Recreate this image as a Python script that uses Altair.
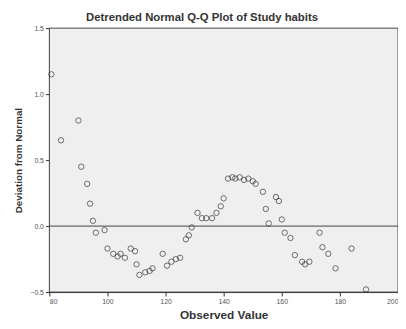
import altair as alt
import pandas as pd

observed = [80.7, 84, 90, 91, 93, 94, 95, 96, 99, 100, 102, 103.5, 104.5, 106, 108, 109.5,
            110, 111, 113, 114.5, 115.5, 119, 120.5, 122, 123.5, 125, 127, 128, 129, 131,
            132.5, 134, 136, 137.5, 139, 140, 141.5, 143, 144, 145.5, 147, 148.5, 150, 151,
            153.5, 154.5, 155.5, 158, 159, 160, 161, 163, 164.5, 167, 168, 169.5, 173, 174,
            176, 178.5, 184, 189]
deviation = [1.15, 0.65, 0.80, 0.45, 0.32, 0.17, 0.04, -0.05, -0.03, -0.17, -0.21, -0.23, -0.21,
             -0.24, -0.17, -0.19, -0.29, -0.37, -0.35, -0.34, -0.32, -0.21, -0.30, -0.27, -0.25,
             -0.24, -0.10, -0.07, -0.01, 0.10, 0.06, 0.06, 0.06, 0.10, 0.15, 0.21, 0.36, 0.37,
             0.36, 0.37, 0.35, 0.36, 0.34, 0.32, 0.26, 0.13, 0.02, 0.22, 0.19, 0.05, -0.05, -0.09,
             -0.22, -0.27, -0.29, -0.27, -0.05, -0.16, -0.21, -0.32, -0.17, -0.48]
x_ticks = [80, 100, 120, 140, 160, 180, 200]
y_ticks = [-0.5, 0.0, 0.5, 1.0, 1.5]

df = pd.DataFrame({"observed": observed, "deviation": deviation})

x_enc = alt.X("observed:Q", title="Observed Value",
              scale=alt.Scale(domain=[80, 200], nice=False, zero=False),
              axis=alt.Axis(values=x_ticks, format="d", grid=False, tickSize=4,
                            labelFontSize=7, labelColor="#555", titleFontSize=12,
                            titleFontWeight="bold", titleColor="#333", titlePadding=5,
                            domainColor="#333", tickColor="#333", labelPadding=2))
y_enc = alt.Y("deviation:Q", title="Deviation from Normal",
              scale=alt.Scale(domain=[-0.5, 1.5], nice=False, zero=False),
              axis=alt.Axis(values=y_ticks, format=".1f", grid=False, tickSize=4,
                            labelFontSize=7, labelColor="#555", titleFontSize=10,
                            titleFontWeight="bold", titleColor="#333", titlePadding=6,
                            domainColor="#333", tickColor="#333", labelPadding=2))

bg = alt.Chart(pd.DataFrame({"a": [0]})).mark_rect(
    fill="#EFEFEF", stroke="#444", strokeWidth=1).encode(
    x=alt.value(0), x2=alt.value(354), y=alt.value(0), y2=alt.value(268))

points = alt.Chart(df).mark_point(shape="circle", filled=False, size=30,
                                  color="#333", strokeWidth=1).encode(x=x_enc, y=y_enc)

zero = alt.Chart(pd.DataFrame({"z": [0.0]})).mark_rule(color="#444", strokeWidth=1).encode(
    y=alt.Y("z:Q"))

chart = alt.layer(bg, zero, points).properties(
    width=354, height=268,
    title=alt.Title("Detrended Normal Q-Q Plot of Study habits", fontSize=11.5,
                    fontWeight="bold", color="#333", offset=1, dx=-22, font="Arial"),
    autosize=alt.AutoSizeParams(type="none"),
    padding={"left": 42, "top": 18, "right": 0, "bottom": 32},
).configure_view(stroke=None).configure(font="Liberation Sans", background="white")

chart.save("out.html", embed_options={"renderer": "svg", "actions": False})
